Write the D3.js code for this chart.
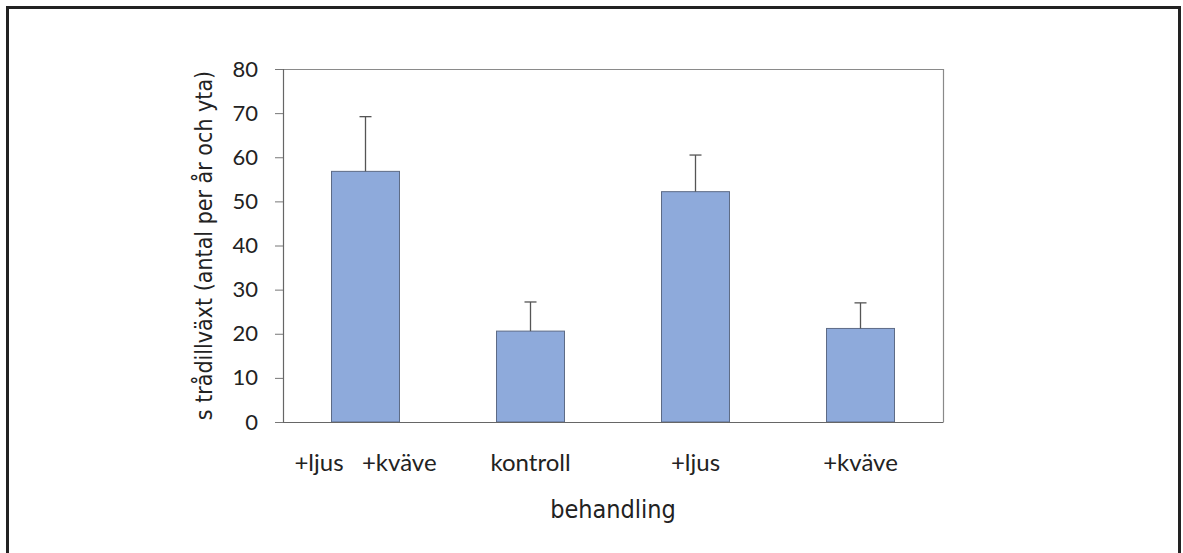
<!DOCTYPE html>
<html>
<head>
<meta charset="utf-8">
<script src="https://cdn.jsdelivr.net/npm/d3@7"></script>
<style>
  html, body { margin: 0; padding: 0; background: #fff; }
  svg { display: block; }
  .tick text { font-family: "Lato", "Open Sans", sans-serif; }
</style>
</head>
<body>
<svg id="chart" width="1183" height="553"></svg>
<script>
// Treatments and measured growth (mean with upper error)
const categories = ["+ljus +kväve", "kontroll", "+ljus", "+kväve"];
const means = [56.8, 20.6, 52.2, 21.2];
const errors = [12.4, 6.6, 8.3, 5.8];
const yTicks = [0, 10, 20, 30, 40, 50, 60, 70, 80];
const yTitle = "s trådillväxt (antal per år och yta)";
const xTitle = "behandling";

const narrow = "'Liberation Sans Narrow', 'DejaVu Sans Condensed', sans-serif";
const svg = d3.select("#chart");

// Outer frame
svg.append("rect")
  .attr("x", 7.5).attr("y", 7.5)
  .attr("width", 1172).attr("height", 600)
  .attr("fill", "none").attr("stroke", "#222").attr("stroke-width", 3);

const plot = { left: 283, right: 943, top: 69, bottom: 422 };

const x = d3.scaleBand()
  .domain(categories)
  .range([plot.left, plot.right])
  .paddingInner(0.588)
  .paddingOuter(0.294);

const y = d3.scaleLinear()
  .domain([0, 80])
  .range([plot.bottom, plot.top]);

// Plot frame (top and right)
svg.append("path")
  .attr("d", `M${plot.left},${plot.top + 0.5}H${plot.right + 0.5}V${plot.bottom}`)
  .attr("fill", "none").attr("stroke", "#8a8a8a").attr("stroke-width", 1.2);

// Bars
svg.append("g").selectAll("rect")
  .data(categories)
  .join("rect")
  .attr("x", d => x(d))
  .attr("y", (d, i) => y(means[i]))
  .attr("width", x.bandwidth())
  .attr("height", (d, i) => y(0) - y(means[i]))
  .attr("fill", "#8eaadb")
  .attr("stroke", "#5d6b86")
  .attr("stroke-width", 1);

// Upper error whiskers
const eb = svg.append("g").attr("stroke", "#555").attr("stroke-width", 1.3);
categories.forEach((c, i) => {
  const cx = x(c) + x.bandwidth() / 2;
  eb.append("line")
    .attr("x1", cx).attr("x2", cx)
    .attr("y1", y(means[i])).attr("y2", y(means[i] + errors[i]));
  eb.append("line")
    .attr("x1", cx - 6).attr("x2", cx + 6)
    .attr("y1", y(means[i] + errors[i])).attr("y2", y(means[i] + errors[i]));
});

// Y axis
const yAxis = svg.append("g")
  .attr("transform", `translate(${plot.left},0)`)
  .call(d3.axisLeft(y).tickValues(yTicks).tickSize(8).tickPadding(17));
yAxis.select(".domain").attr("stroke", "#666").attr("stroke-width", 1.2);
yAxis.selectAll(".tick line").attr("stroke", "#777");
yAxis.selectAll(".tick text")
  .attr("font-size", 22).attr("fill", "#222");

// X axis baseline
const xAxis = svg.append("g")
  .attr("transform", `translate(0,${plot.bottom})`)
  .call(d3.axisBottom(x).tickSize(0).tickPadding(32));
xAxis.select(".domain").attr("stroke", "#666").attr("stroke-width", 1.2);
xAxis.selectAll(".tick text")
  .attr("font-family", narrow)
  .attr("font-size", 24)
  .attr("fill", "#222")
  .style("white-space", "pre")
  .text(d => d.replace(" ", "   "));

// Axis titles
svg.append("text")
  .attr("x", (plot.left + plot.right) / 2)
  .attr("y", 518)
  .attr("text-anchor", "middle")
  .attr("font-family", narrow)
  .attr("font-size", 25)
  .attr("fill", "#222")
  .text(xTitle);

svg.append("text")
  .attr("transform", `translate(212,${(plot.top + plot.bottom) / 2}) rotate(-90)`)
  .attr("text-anchor", "middle")
  .attr("font-family", narrow)
  .attr("font-size", 23)
  .attr("fill", "#222")
  .text(yTitle);
</script>
</body>
</html>
